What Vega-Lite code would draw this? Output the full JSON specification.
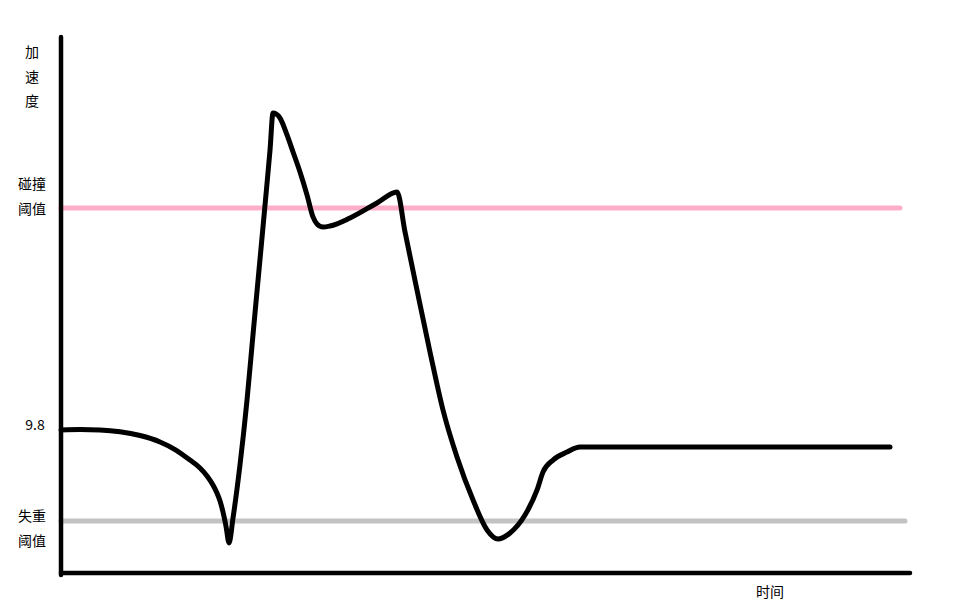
{
  "$schema": "https://vega.github.io/schema/vega-lite/v6.json",
  "width": 976,
  "height": 613,
  "autosize": {"type": "fit", "contains": "padding"},
  "padding": 0,
  "background": "white",
  "config": {"view": {"stroke": null}},
  "datasets": {
    "curve": [
      {"t": 0, "a": 9.8}, {"t": 2.24, "a": 9.83}, {"t": 4.59, "a": 9.8}, {"t": 6.95, "a": 9.68},
      {"t": 9.31, "a": 9.42}, {"t": 11.66, "a": 8.98}, {"t": 13.43, "a": 8.46}, {"t": 15.19, "a": 7.74},
      {"t": 16.37, "a": 7.2}, {"t": 17.2, "a": 6.65}, {"t": 17.9, "a": 6.03}, {"t": 18.37, "a": 5.48},
      {"t": 18.73, "a": 4.93}, {"t": 19.08, "a": 4.18}, {"t": 19.43, "a": 3.22}, {"t": 19.79, "a": 2.06},
      {"t": 20.26, "a": 3.77}, {"t": 21.08, "a": 7.4}, {"t": 21.91, "a": 11.86}, {"t": 22.61, "a": 16.31},
      {"t": 23.32, "a": 20.76}, {"t": 24.03, "a": 25.22}, {"t": 24.62, "a": 28.99}, {"t": 24.97, "a": 31.52},
      {"t": 25.32, "a": 31.46}, {"t": 25.8, "a": 31.18}, {"t": 26.62, "a": 30.02}, {"t": 27.33, "a": 28.85},
      {"t": 28.15, "a": 27.48}, {"t": 28.98, "a": 25.9}, {"t": 29.68, "a": 24.4}, {"t": 30.15, "a": 23.92},
      {"t": 30.86, "a": 23.71}, {"t": 31.68, "a": 23.78}, {"t": 34.04, "a": 24.33}, {"t": 37.22, "a": 25.36},
      {"t": 39.58, "a": 26.11}, {"t": 40.52, "a": 23.37}, {"t": 41.93, "a": 19.39}, {"t": 43.46, "a": 15.15},
      {"t": 44.99, "a": 11.17}, {"t": 46.64, "a": 7.95}, {"t": 48.53, "a": 5.0}, {"t": 50.18, "a": 2.95},
      {"t": 51.47, "a": 2.33}, {"t": 52.89, "a": 2.74}, {"t": 54.65, "a": 3.97}, {"t": 56.07, "a": 5.69},
      {"t": 56.77, "a": 6.92}, {"t": 57.95, "a": 7.74}, {"t": 59.6, "a": 8.29}, {"t": 61.13, "a": 8.63},
      {"t": 97.64, "a": 8.63}
    ],
    "thresholds": [
      {"name": "碰撞阈值", "t0": 0, "t1": 98.82, "a": 25.01},
      {"name": "失重阈值", "t0": 0, "t1": 99.41, "a": 3.56}
    ],
    "axes": [
      {"t0": 0, "t1": 0, "a0": 36.73, "a1": -0.14},
      {"t0": 0, "t1": 100, "a0": 0, "a1": 0}
    ],
    "labels": [
      {"text": "加", "t": -3.42, "a": 35.64},
      {"text": "速", "t": -3.42, "a": 33.92},
      {"text": "度", "t": -3.42, "a": 32.28},
      {"text": "碰撞", "t": -3.42, "a": 26.59},
      {"text": "阈值", "t": -3.42, "a": 24.88},
      {"text": "9.8", "t": -3.06, "a": 10.07},
      {"text": "失重", "t": -3.42, "a": 3.84},
      {"text": "阈值", "t": -3.42, "a": 2.12},
      {"text": "时间", "t": 83.51, "a": -1.37}
    ]
  },
  "layer": [
    {
      "data": {"name": "thresholds"},
      "mark": {"type": "rule", "strokeWidth": 5, "strokeCap": "round"},
      "encoding": {
        "x": {"field": "t0", "type": "quantitative", "scale": {"domain": [-7.185, 107.77], "nice": false, "zero": false}, "axis": null},
        "x2": {"field": "t1"},
        "y": {"field": "a", "type": "quantitative", "scale": {"domain": [-2.741, 39.268], "nice": false, "zero": false}, "axis": null},
        "color": {"field": "name", "type": "nominal", "scale": {"domain": ["碰撞阈值", "失重阈值"], "range": ["#ffaec9", "#c3c3c3"]}, "legend": null}
      }
    },
    {
      "data": {"name": "axes"},
      "mark": {"type": "rule", "strokeWidth": 4.5, "strokeCap": "round", "color": "black"},
      "encoding": {
        "x": {"field": "t0", "type": "quantitative"},
        "x2": {"field": "t1"},
        "y": {"field": "a0", "type": "quantitative"},
        "y2": {"field": "a1"}
      }
    },
    {
      "data": {"name": "curve"},
      "mark": {"type": "line", "strokeWidth": 5, "color": "black", "interpolate": "monotone", "strokeCap": "round", "strokeJoin": "round"},
      "encoding": {
        "x": {"field": "t", "type": "quantitative"},
        "y": {"field": "a", "type": "quantitative"}
      }
    },
    {
      "data": {"name": "labels"},
      "mark": {"type": "text", "fontSize": 14, "font": "Noto Sans CJK SC", "baseline": "middle", "align": "center", "color": "black"},
      "encoding": {
        "x": {"field": "t", "type": "quantitative"},
        "y": {"field": "a", "type": "quantitative"},
        "text": {"field": "text"}
      }
    }
  ]
}
